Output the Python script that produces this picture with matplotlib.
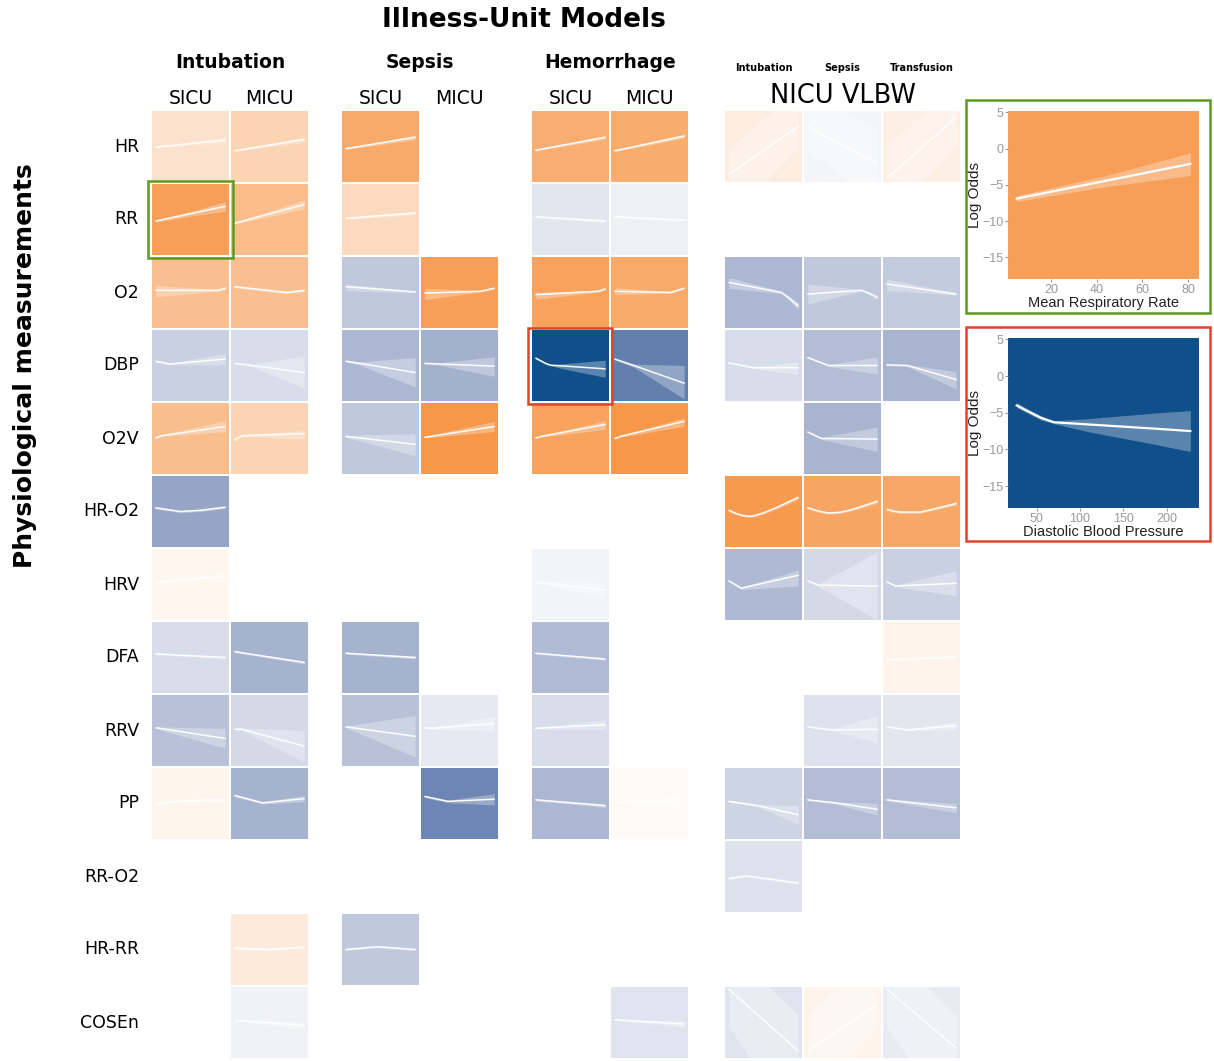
import numpy as np
import matplotlib
matplotlib.use('Agg')
from matplotlib import pyplot as plt
from matplotlib.colors import LinearSegmentedColormap, Normalize
from matplotlib.patches import Rectangle

W, H = 1214, 1061

groups      = ['Intubation', 'Sepsis', 'Hemorrhage']
units       = ['SICU', 'MICU']
nicu_groups = ['Intubation', 'Sepsis', 'Transfusion']
measures    = ['HR', 'RR', 'O2', 'DBP', 'O2V', 'HR-O2', 'HRV', 'DFA',
               'RRV', 'PP', 'RR-O2', 'HR-RR', 'COSEn']

# mean respiratory rate, intubation SICU
rr_x   = [5, 43, 81]
rr_fit = [-6.9, -4.5, -2.1]
rr_lo  = [-7.3, -5.3, -3.7]
rr_hi  = [-6.5, -3.8, -0.6]

# diastolic blood pressure, hemorrhage SICU
dbp_x   = [27, 40, 55, 70, 110, 150, 190, 227]
dbp_fit = [-4.0, -4.8, -5.7, -6.3, -6.6, -6.9, -7.2, -7.5]
dbp_lo  = [-4.3, -5.1, -6.0, -6.5, -7.6, -8.5, -9.4, -10.3]
dbp_hi  = [-3.6, -4.5, -5.4, -6.1, -5.8, -5.4, -5.0, -4.7]

# columns: 0-1 intubation SICU/MICU, 2-3 sepsis, 4-5 hemorrhage, 6-8 NICU
# measure, column, effect, x (scaled 0-1), fit, lower, upper
tiles = [
    ('HR', 0, 0.25, [0, 1], [-6.6, -4.3], [-6.9, -5.0], [-6.3, -3.6]),
    ('HR', 1, 0.37, [0, 1], [-7.8, -4.1], [-8.1, -4.9], [-7.5, -3.3]),
    ('HR', 2, 0.74, [0, 1], [-7.1, -3.4], [-7.4, -4.2], [-6.8, -2.6]),
    ('HR', 4, 0.70, [0, 1], [-7.6, -3.4], [-7.9, -4.0], [-7.3, -2.8]),
    ('HR', 5, 0.72, [0, 1], [-7.8, -3.0], [-8.1, -3.7], [-7.5, -2.3]),
    ('HR', 6, 0.15, [0, 1], [-15.5, 0.1], [-30, -7], [-7, 12]),
    ('HR', 7, -0.04, [0, 1], [0.1, -12.0], [-8, -25], [10, 0]),
    ('HR', 8, 0.14, [0, 1], [-16.8, 3.1], [-30, -6], [-6, 14]),

    ('RR', 1, 0.58, [0, 1], [-7.6, -1.5], [-7.9, -3.0], [-7.3, 0.0]),
    ('RR', 2, 0.32, [0, 1], [-6.0, -4.3], [-6.3, -4.9], [-5.7, -3.7]),
    ('RR', 4, -0.11, [0, 1], [-5.5, -6.9], [-5.8, -7.5], [-5.2, -6.3]),
    ('RR', 5, -0.07, [0, 1], [-5.5, -6.6], [-5.8, -7.2], [-5.2, -6.0]),

    ('O2', 0, 0.55, [0, 0.9, 1], [-5.7, -5.7, -5.0], [-7.8, -6.0, -5.4], [-4.1, -5.4, -4.6]),
    ('O2', 1, 0.55, [0, 0.75, 1], [-4.5, -6.4, -5.7], [-4.9, -6.8, -6.2], [-4.1, -6.0, -5.2]),
    ('O2', 2, -0.25, [0, 1], [-4.5, -6.2], [-5.8, -6.5], [-3.6, -5.9]),
    ('O2', 3, 0.83, [0, 0.8, 1], [-6.6, -6.0, -5.0], [-8.7, -6.3, -5.4], [-5.0, -5.7, -4.6]),
    ('O2', 4, 0.80, [0, 0.9, 1], [-7.1, -6.0, -5.2], [-8.6, -6.3, -5.6], [-6.3, -5.7, -4.8]),
    ('O2', 5, 0.74, [0, 0.8, 1], [-6.0, -6.4, -5.0], [-7.1, -6.7, -5.4], [-4.8, -6.1, -4.6]),
    ('O2', 6, -0.32, [0, 0.76, 0.87, 1], [-3.1, -6.4, -8.3, -10.8],
     [-5.0, -6.8, -9.0, -12.0], [-1.5, -6.0, -7.6, -9.6]),
    ('O2', 7, -0.25, [0, 0.77, 0.86, 1], [-6.9, -5.7, -6.4, -8.0],
     [-10.1, -6.0, -6.8, -8.8], [-3.6, -5.4, -6.0, -7.2]),
    ('O2', 8, -0.23, [0, 1], [-3.6, -6.9], [-5.7, -7.3], [-2.0, -6.5]),

    ('DBP', 0, -0.21, [0, 0.2, 1], [-5.0, -5.9, -4.3], [-5.3, -6.2, -6.2], [-4.7, -5.6, -2.5]),
    ('DBP', 1, -0.15, [0, 0.25, 1], [-5.7, -6.4, -8.7], [-6.0, -6.9, -13.8], [-5.4, -6.0, -3.2]),
    ('DBP', 2, -0.32, [0, 0.2, 1], [-5.0, -5.7, -8.7], [-5.3, -6.3, -13.4], [-4.7, -5.2, -3.8]),
    ('DBP', 3, -0.35, [0, 0.2, 1], [-5.7, -5.9, -6.6], [-6.0, -6.3, -9.9], [-5.4, -5.5, -3.6]),
    ('DBP', 5, -0.62, [0, 0.3, 1], [-4.3, -6.6, -12.2], [-4.6, -7.3, -17.3], [-4.0, -6.0, -6.4]),
    ('DBP', 6, -0.15, [0, 0.35, 1], [-5.5, -7.1, -7.1], [-5.8, -7.4, -9.4], [-5.2, -6.8, -5.2]),
    ('DBP', 7, -0.29, [0, 0.3, 1], [-3.8, -6.4, -6.4], [-4.1, -6.7, -9.2], [-3.5, -6.1, -3.6]),
    ('DBP', 8, -0.33, [0, 0.3, 1], [-6.2, -6.4, -11.0], [-6.5, -6.8, -14.1], [-5.9, -6.1, -8.4]),

    ('O2V', 0, 0.57, [0, 0.08, 1], [-6.2, -5.5, -2.5], [-6.5, -5.8, -4.1], [-5.9, -5.2, -0.6]),
    ('O2V', 1, 0.37, [0, 0.1, 1], [-6.9, -5.5, -4.8], [-7.2, -5.8, -6.6], [-6.6, -5.2, -3.8]),
    ('O2V', 2, -0.25, [0, 1], [-5.7, -8.3], [-6.0, -12.0], [-5.4, -4.8]),
    ('O2V', 3, 0.90, [0, 1], [-6.0, -2.5], [-6.3, -4.1], [-5.7, -0.8]),
    ('O2V', 4, 0.80, [0, 0.08, 1], [-6.2, -5.7, -1.8], [-6.5, -6.0, -3.4], [-5.9, -5.4, -0.6]),
    ('O2V', 5, 0.90, [0, 0.08, 1], [-6.4, -5.7, -0.8], [-6.7, -6.0, -2.4], [-6.1, -5.4, 0.4]),
    ('O2V', 7, -0.33, [0, 0.2, 1], [-4.3, -6.4, -6.6], [-4.6, -6.8, -10.6], [-4.0, -6.0, -2.7]),

    ('HR-O2', 0, -0.40, [0, 0.35, 0.65, 1], [-5.2, -6.4, -6.0, -5.0],
     [-5.6, -6.8, -6.4, -5.4], [-4.8, -6.0, -5.6, -4.6]),
    ('HR-O2', 6, 0.87, [0, 0.1, 0.2, 0.3, 0.4, 0.55, 0.7, 0.85, 1],
     [-6.0, -7.0, -7.7, -8.0, -7.6, -6.4, -5.0, -3.4, -1.8],
     [-6.4, -7.4, -8.1, -8.4, -8.0, -6.8, -5.5, -4.0, -2.5],
     [-5.6, -6.6, -7.3, -7.6, -7.2, -6.0, -4.5, -2.8, -1.1]),
    ('HR-O2', 7, 0.78, [0, 0.1, 0.2, 0.3, 0.45, 0.6, 0.8, 1],
     [-5.2, -5.9, -6.5, -6.9, -6.7, -6.0, -4.6, -3.1],
     [-5.6, -6.3, -6.9, -7.3, -7.1, -6.4, -5.1, -3.8],
     [-4.8, -5.5, -6.1, -6.5, -6.3, -5.6, -4.1, -2.4]),
    ('HR-O2', 8, 0.76, [0, 0.1, 0.2, 0.48, 0.6, 0.8, 1],
     [-5.7, -6.3, -6.6, -6.6, -6.0, -4.9, -3.8],
     [-6.1, -6.7, -7.0, -7.0, -6.4, -5.4, -4.4],
     [-5.3, -5.9, -6.2, -6.2, -5.6, -4.4, -3.2]),

    ('HRV', 0, 0.08, [0, 1], [-5.7, -3.6], [-6.0, -5.5], [-5.4, -1.5]),
    ('HRV', 4, -0.05, [0, 1], [-5.7, -8.3], [-6.0, -10.8], [-5.4, -5.7]),
    ('HRV', 6, -0.31, [0, 0.18, 1], [-5.2, -7.6, -3.4], [-5.5, -8.0, -6.9], [-4.9, -7.2, -1.8]),
    ('HRV', 7, -0.17, [0, 0.15, 1], [-5.2, -6.6, -6.9], [-5.5, -7.0, -18.0], [-4.9, -6.2, 4.3]),
    ('HRV', 8, -0.21, [0, 0.13, 1], [-5.5, -6.9, -6.0], [-5.8, -7.2, -10.1], [-5.2, -6.6, -1.8]),

    ('DFA', 0, -0.15, [0, 1], [-5.2, -6.4], [-5.5, -6.8], [-4.9, -6.0]),
    ('DFA', 1, -0.34, [0, 1], [-4.5, -8.0], [-4.8, -8.5], [-4.2, -7.5]),
    ('DFA', 2, -0.34, [0, 1], [-5.0, -6.4], [-5.3, -6.9], [-4.7, -5.9]),
    ('DFA', 4, -0.30, [0, 1], [-5.0, -6.9], [-5.3, -7.3], [-4.7, -6.5]),
    ('DFA', 8, 0.10, [0, 1], [-7.1, -6.2], [-7.4, -6.6], [-6.8, -5.8]),

    ('RRV', 0, -0.28, [0, 1], [-5.5, -9.0], [-5.8, -12.2], [-5.2, -5.7]),
    ('RRV', 1, -0.17, [0, 0.1, 1], [-6.0, -6.0, -11.5], [-6.3, -6.4, -16.6], [-5.7, -5.6, -6.4]),
    ('RRV', 2, -0.28, [0, 1], [-5.2, -8.3], [-5.5, -15.0], [-4.9, -1.5]),
    ('RRV', 3, -0.10, [0, 0.1, 1], [-5.5, -5.7, -4.1], [-5.8, -6.0, -6.6], [-5.2, -5.4, -1.8]),
    ('RRV', 4, -0.15, [0, 1], [-5.7, -4.5], [-6.0, -6.0], [-5.4, -2.9]),
    ('RRV', 7, -0.13, [0, 0.35, 1], [-5.2, -6.2, -6.0], [-5.5, -6.5, -10.3], [-4.9, -5.9, -1.5]),
    ('RRV', 8, -0.11, [0, 0.3, 1], [-5.2, -6.2, -4.8], [-5.5, -6.5, -6.2], [-4.9, -5.9, -3.5]),

    ('PP', 0, 0.09, [0, 0.33, 1], [-6.6, -5.5, -5.2], [-7.0, -5.9, -5.9], [-6.2, -5.1, -4.5]),
    ('PP', 1, -0.34, [0, 0.4, 1], [-3.8, -6.2, -4.8], [-4.2, -6.6, -5.8], [-3.4, -5.8, -3.8]),
    ('PP', 3, -0.57, [0, 0.33, 1], [-4.1, -5.7, -5.0], [-4.5, -6.1, -6.9], [-3.7, -5.3, -3.2]),
    ('PP', 4, -0.32, [0, 1], [-5.2, -7.1], [-5.5, -7.7], [-4.9, -6.5]),
    ('PP', 5, 0.04, [0, 1], [-6.2, -5.0], [-6.5, -7.1], [-5.9, -3.1]),
    ('PP', 6, -0.19, [0, 0.42, 1], [-5.7, -7.1, -10.1], [-6.0, -7.5, -13.1], [-5.4, -6.7, -7.1]),
    ('PP', 7, -0.29, [0, 0.4, 1], [-5.2, -6.2, -8.3], [-5.5, -6.6, -10.2], [-4.9, -5.8, -6.4]),
    ('PP', 8, -0.29, [0, 1], [-5.2, -7.8], [-5.5, -9.4], [-4.9, -6.4]),

    ('RR-O2', 6, -0.13, [0, 0.25, 1], [-7.1, -6.2, -8.5], [-7.5, -6.6, -8.9], [-6.7, -5.8, -8.1]),

    ('HR-RR', 1, 0.18, [0, 0.5, 1], [-6.0, -6.4, -5.7], [-6.4, -6.8, -6.1], [-5.6, -6.0, -5.3]),
    ('HR-RR', 2, -0.25, [0, 0.45, 1], [-6.4, -5.5, -6.4], [-6.8, -5.9, -6.8], [-6.0, -5.1, -6.0]),

    ('COSEn', 1, -0.06, [0, 1], [-5.7, -7.3], [-6.0, -8.5], [-5.4, -6.1]),
    ('COSEn', 5, -0.12, [0, 1], [-5.5, -6.9], [-5.8, -7.9], [-5.2, -5.9]),
    ('COSEn', 6, -0.12, [0, 1], [4.5, -15.7], [-8, -40], [18, -4]),
    ('COSEn', 7, 0.10, [0, 1], [-15.7, -0.6], [-35, -8], [-4, 18]),
    ('COSEn', 8, -0.09, [0, 1], [4.5, -14.8], [-8, -40], [18, -4]),
]

rr_effect  = 0.83
dbp_effect = -1.0


def scaled(x):
    x = np.asarray(x, dtype=float)
    return (x - x.min()) / (x.max() - x.min())


tiles.append(('RR', 0, rr_effect, scaled(rr_x), rr_fit, rr_lo, rr_hi))
tiles.append(('DBP', 4, dbp_effect, scaled(dbp_x), dbp_fit, dbp_lo, dbp_hi))

cmap = LinearSegmentedColormap.from_list(
    'effect', [(0.0, '#114f8a'), (0.25, '#7d8fb9'), (0.5, '#ffffff'), (1.0, '#f58c37')])
norm = Normalize(-1, 1)

# pixel layout
col_left = [152, 231, 342, 421, 532, 611, 725, 804, 883]
tile_w, tile_h = 77, 71
row_top = [111 + 73 * i for i in range(len(measures))]

fig = plt.figure(figsize=(W / 100, H / 100), dpi=100)
fig.patch.set_facecolor('white')


def px_box(x0, y0, w, h):
    return [x0 / W, 1 - (y0 + h) / H, w / W, h / H]


def ftext(x, y, s, **kw):
    fig.text(x / W, 1 - y / H, s, **kw)


plt.rcParams['font.family'] = ['DejaVu Sans']

for name, col, eff, xs, fit, lo, hi in tiles:
    r = measures.index(name)
    ax = fig.add_axes(px_box(col_left[col], row_top[r], tile_w, tile_h))
    ax.set_facecolor(cmap(norm(eff)))
    ax.fill_between(xs, lo, hi, color='white', alpha=0.3, lw=0)
    ax.plot(xs, fit, color='white', lw=1.1, alpha=0.95, solid_capstyle='round',
            solid_joinstyle='round')
    ax.set_xlim(-0.055, 1.055)
    ax.set_ylim(-18, 5.2)
    ax.set_xticks([])
    ax.set_yticks([])
    for s in ax.spines.values():
        s.set_visible(False)

# headers
ftext(524, 20, 'Illness-Unit Models', fontsize=19, fontweight='bold', ha='center', va='center')
for g, name in enumerate(groups):
    c0 = col_left[2 * g]
    ftext(c0 + tile_w + 1, 62, name, fontsize=13.5, fontweight='bold', ha='center', va='center')
    for u, unit in enumerate(units):
        ftext(col_left[2 * g + u] + tile_w / 2, 99, unit, fontsize=13.5, ha='center', va='center')
for k, name in enumerate(nicu_groups):
    ftext(col_left[6 + k] + tile_w / 2, 68, name, fontsize=7, fontweight='bold', ha='center', va='center')
ftext(843, 96, 'NICU VLBW', fontsize=18.5, ha='center', va='center')

for r, name in enumerate(measures):
    ftext(139, row_top[r] + tile_h / 2, name, fontsize=12.5, ha='right', va='center')
ftext(25, 366, 'Physiological measurements', fontsize=18, fontweight='bold',
      rotation=90, ha='center', va='center')


def detail(box, effect, xs, fit, lo, hi, xlim, xticks, xlabel):
    ax = fig.add_axes(px_box(*box))
    ax.set_facecolor(cmap(norm(effect)))
    ax.fill_between(xs, lo, hi, color='white', alpha=0.3, lw=0)
    ax.plot(xs, fit, color='white', lw=1.6, solid_joinstyle='round')
    ax.set_xlim(*xlim)
    ax.set_ylim(-18, 5.2)
    ax.set_yticks([-15, -10, -5, 0, 5])
    ax.set_xticks(xticks)
    ax.tick_params(colors='#9a9a9a', labelsize=9, length=2.5, width=0.8, pad=1)
    for lab in ax.get_xticklabels() + ax.get_yticklabels():
        lab.set_family('Liberation Sans')
    ax.set_ylabel('Log Odds', fontsize=11, color='#222222', family='Liberation Sans', labelpad=0)
    ax.set_xlabel(xlabel, fontsize=10.5, color='#222222', family='Liberation Sans', labelpad=0)
    for s in ax.spines.values():
        s.set_visible(False)
    return ax


detail((1008, 111, 191, 168), rr_effect, rr_x, rr_fit, rr_lo, rr_hi,
       (1.2, 84.8), [20, 40, 60, 80], 'Mean Respiratory Rate')
detail((1008, 338, 191, 170), dbp_effect, dbp_x, dbp_fit, dbp_lo, dbp_hi,
       (17, 237), [50, 100, 150, 200], 'Diastolic Blood Pressure')

# frames linking tiles to their detail panels
over = fig.add_axes([0, 0, 1, 1])
over.set_xlim(0, W)
over.set_ylim(H, 0)
over.axis('off')
green, red = '#5a9b1f', '#e8402a'
over.add_patch(Rectangle((148, 181), 85, 77, fill=False, ec=green, lw=1.8))
over.add_patch(Rectangle((966, 100), 244, 213, fill=False, ec=green, lw=1.8))
over.add_patch(Rectangle((528, 328), 84, 76, fill=False, ec=red, lw=1.8))
over.add_patch(Rectangle((966, 327), 244, 214, fill=False, ec=red, lw=1.8))

plt.savefig('out.png', dpi=100)
